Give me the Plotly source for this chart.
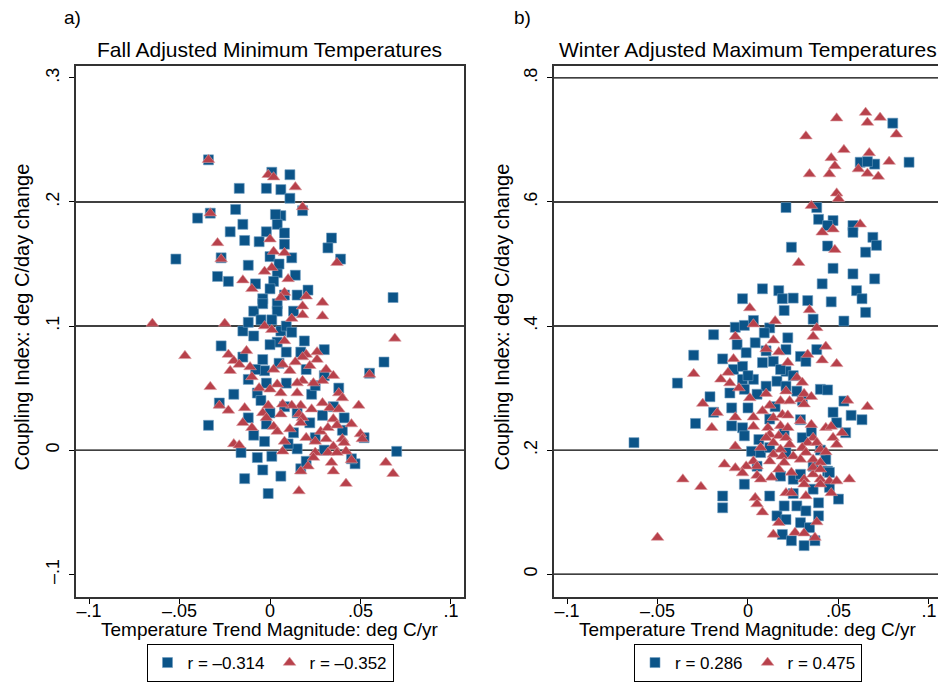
import plotly.graph_objects as go

W, H = 938, 682

# ---------------- Panel a: Fall Adjusted Minimum Temperatures ----------------
a_blue_x = [-0.034, 0.001, 0.011, -0.017, -0.002, 0.006, 0.011, -0.019, -0.040, -0.033,
            0.006, 0.004, -0.015, -0.022, -0.002, -0.014, -0.006, 0.008, 0.034, 0.032,
            -0.052, -0.027, 0.000, -0.012, 0.039, -0.029, -0.023, -0.008, 0.004, 0.014,
            0.002, 0.068, 0.021, 0.018, 0.008, 0.004, 0.013, -0.004,
            -0.027, -0.034, -0.020, -0.028, -0.015, -0.012, -0.009, -0.004, 0.004, 0.019,
            0.030, 0.063, 0.055, 0.070, -0.014, -0.004, 0.006, -0.001, -0.007, -0.016,
            0.001, 0.017, 0.020, 0.047, 0.045, -0.003, -0.009, 0.015, -0.004, -0.003,
            -0.009, 0.004, 0.009, 0.017, -0.012, -0.007, -0.002, 0.009, 0.023, 0.025,
            0.038, 0.029, 0.041, 0.040, 0.052, -0.012, -0.002, 0.022, 0.013, 0.006,
            0.009, 0.001,
            0.000, 0.008, 0.015, -0.005, 0.010, 0.030, 0.025, -0.008, 0.005, 0.020,
            0.012, 0.000, -0.015, 0.035, 0.030,
            0.003, 0.008, 0.005, 0.012, 0.000, -0.005, 0.015]
a_blue_y = [0.234, 0.224, 0.222, 0.211, 0.211, 0.210, 0.203, 0.194, 0.187, 0.191,
            0.189, 0.182, 0.182, 0.176, 0.176, 0.169, 0.168, 0.166, 0.171, 0.163,
            0.154, 0.155, 0.156, 0.149, 0.154, 0.140, 0.136, 0.134, 0.143, 0.141,
            0.136, 0.123, 0.129, 0.193, 0.125, 0.118, 0.112, 0.122,
            0.084, 0.020, 0.045, 0.038, 0.096, 0.103, 0.112, 0.118, 0.112, 0.088,
            0.081, 0.071, 0.062, -0.001, -0.023, -0.016, -0.021, -0.035, -0.006, -0.002,
            -0.005, -0.015, -0.009, -0.011, -0.007, 0.007, 0.012, 0.001, 0.073, 0.064,
            0.092, 0.087, 0.079, 0.079, 0.057, 0.046, 0.054, 0.054, 0.045, 0.052,
            0.050, 0.028, 0.026, 0.016, 0.010, 0.026, 0.021, 0.022, 0.014, 0.096,
            0.100, 0.105,
            0.030, 0.035, 0.030, 0.040, 0.005, 0.000, 0.010, 0.065, 0.070, 0.065,
            0.095, 0.085, 0.075, 0.035, 0.060,
            0.190, 0.175, 0.150, 0.155, 0.130, 0.105, 0.125]

a_red_x = [-0.034, -0.001, 0.002, 0.014, 0.018, -0.033, -0.029, 0.000, -0.027, 0.002,
           0.008, 0.037, 0.001, -0.003, -0.015, -0.010, 0.010, 0.008, 0.006, 0.020,
           0.029, 0.018,
           -0.065, -0.025, -0.047, 0.069, 0.055, -0.033, -0.028, -0.023, 0.049, -0.020,
           -0.017, 0.064, 0.068, 0.042, 0.016, 0.035, 0.034, 0.045, 0.007, -0.013,
           -0.023, -0.020, -0.017, -0.022, -0.011, -0.010, -0.003, 0.001, 0.008, 0.012,
           0.018, 0.029, 0.026, 0.020, 0.018, 0.022, 0.026, 0.014, 0.007, 0.002,
           0.011, 0.031, 0.035, 0.029, 0.024, 0.018, 0.015, 0.004, -0.006, 0.000,
           0.006, 0.015, 0.038, 0.040, 0.029, 0.033, 0.038, 0.023, 0.017, 0.012,
           0.007, -0.001, -0.014, -0.004, 0.006, 0.016, 0.018, -0.002, 0.035, 0.045,
           -0.015, -0.010, 0.002, 0.011, 0.017, 0.028, 0.032, 0.037, 0.004, 0.020,
           0.025, 0.031, 0.040, 0.050, 0.051, 0.035, 0.041, 0.042, 0.025, 0.032,
           0.037, 0.024, 0.021, 0.017, 0.008]
a_red_y = [0.234, 0.222, 0.220, 0.212, 0.196, 0.191, 0.167, 0.170, 0.154, 0.160,
           0.159, 0.151, 0.147, 0.144, 0.137, 0.130, 0.138, 0.127, 0.123, 0.124,
           0.119, 0.116,
           0.102, 0.102, 0.076, 0.090, 0.061, 0.051, 0.036, 0.032, 0.036, 0.005,
           0.004, -0.010, -0.019, -0.027, -0.033, -0.017, -0.010, -0.008, -0.001, 0.080,
           0.077, 0.072, 0.069, 0.064, 0.067, 0.059, 0.100, 0.097, 0.088, 0.106,
           0.109, 0.108, 0.079, 0.077, 0.075, 0.068, 0.073, 0.071, 0.069, 0.065,
           0.064, 0.065, 0.060, 0.056, 0.054, 0.056, 0.054, 0.053, 0.050, 0.049,
           0.046, 0.046, 0.046, 0.042, 0.038, 0.034, 0.033, 0.033, 0.036, 0.036,
           0.037, 0.036, 0.034, 0.030, 0.029, 0.029, 0.026, 0.026, 0.025, 0.021,
           0.022, 0.018, 0.019, 0.017, 0.022, 0.015, 0.018, 0.020, 0.015, 0.010,
           0.007, 0.009, 0.009, 0.013, 0.009, 0.003, 0.006, -0.001, -0.002, -0.002,
           -0.002, -0.006, -0.013, -0.017, 0.007]

# ---------------- Panel b: Winter Adjusted Maximum Temperatures ----------------
b_blue_x = [0.080, 0.089, 0.062, 0.070, 0.066, 0.021, 0.038, 0.039, 0.047, 0.044,
            0.058, 0.058, 0.069, 0.071, 0.065, 0.024, 0.044, 0.047, 0.058, 0.070,
            0.041, 0.060, 0.063, 0.008, 0.017, 0.019, 0.025, 0.033, 0.046, -0.003,
            0.020, 0.065, 0.036, 0.053, -0.007, -0.002, 0.003, 0.012,
            -0.019, -0.030, -0.039, -0.063, -0.029, -0.021, -0.019, -0.014, -0.006, -0.001,
            0.004, 0.009, 0.022, 0.021, 0.029, 0.038, 0.032, -0.008, -0.003, 0.008,
            0.014, 0.021, 0.003, -0.003, -0.010, -0.002, 0.016, 0.010, 0.021, 0.027,
            0.040, 0.044, 0.053, 0.047, 0.057, 0.063, 0.054, 0.049, -0.009, 0.000,
            -0.009, -0.003, -0.002, 0.006, 0.002, 0.007, 0.029, 0.030, 0.043, 0.044,
            -0.002, -0.014, -0.014, 0.012, 0.016, 0.020, 0.027, 0.032, 0.039, 0.039,
            0.021, 0.029, 0.034, 0.019, 0.024, 0.031, 0.037, 0.050, 0.036, 0.025,
            0.005, 0.036, 0.045, 0.018, 0.012, 0.021, 0.029,
            0.000, 0.010, 0.018, 0.005, 0.015, 0.025, 0.030, 0.012, 0.020, 0.035,
            0.040, 0.045, 0.025]
b_blue_y = [0.727, 0.664, 0.664, 0.661, 0.665, 0.591, 0.591, 0.572, 0.570, 0.562,
            0.562, 0.551, 0.543, 0.530, 0.519, 0.527, 0.529, 0.493, 0.484, 0.476,
            0.468, 0.457, 0.444, 0.460, 0.457, 0.444, 0.445, 0.441, 0.439, 0.444,
            0.425, 0.422, 0.411, 0.408, 0.398, 0.401, 0.409, 0.397,
            0.386, 0.353, 0.308, 0.212, 0.243, 0.286, 0.261, 0.347, 0.370, 0.357,
            0.373, 0.389, 0.381, 0.362, 0.351, 0.362, 0.343, 0.330, 0.335, 0.341,
            0.343, 0.327, 0.314, 0.314, 0.292, 0.298, 0.311, 0.303, 0.303, 0.295,
            0.298, 0.297, 0.279, 0.261, 0.256, 0.249, 0.228, 0.244, 0.268, 0.268,
            0.239, 0.236, 0.223, 0.217, 0.198, 0.196, 0.249, 0.220, 0.185, 0.166,
            0.145, 0.126, 0.107, 0.126, 0.094, 0.110, 0.110, 0.102, 0.115, 0.094,
            0.088, 0.083, 0.075, 0.064, 0.054, 0.046, 0.054, 0.121, 0.137, 0.153,
            0.174, 0.174, 0.164, 0.158, 0.204, 0.196, 0.161,
            0.320, 0.360, 0.330, 0.290, 0.270, 0.320, 0.280, 0.250, 0.230, 0.230,
            0.200, 0.140, 0.130]

b_red_x = [0.049, 0.065, 0.073, 0.066, 0.082, 0.032, 0.053, 0.046, 0.067, 0.078,
           0.048, 0.061, 0.066, 0.072, 0.034, 0.045, 0.049, 0.050, 0.035, 0.062,
           0.047, 0.041, 0.048, 0.028, 0.001, 0.034, 0.015, 0.003, 0.038,
           0.036, 0.043, -0.007, 0.014, 0.010, 0.017, 0.033, 0.041, 0.049, 0.022,
           -0.008, -0.011, -0.015, -0.010, -0.005, -0.030, 0.027, 0.030, 0.021, 0.010,
           0.001, 0.018, 0.012, 0.023, 0.029, 0.031, 0.035, 0.031, 0.055, 0.066,
           -0.025, -0.017, -0.020, -0.007, 0.003, 0.008, 0.014, 0.019, 0.022, 0.029,
           0.035, 0.043, 0.046, 0.052, 0.003, 0.011, 0.018, 0.022, 0.012, 0.017,
           0.021, 0.010, 0.014, 0.036, 0.033, 0.038, 0.047, 0.049, -0.007, 0.007,
           0.018, 0.023, 0.030, 0.040, 0.043, 0.014, 0.019, 0.025, 0.032, 0.036,
           0.040, 0.029, 0.020, 0.012, 0.003, 0.005, -0.001, -0.013, -0.007, -0.003,
           0.005, 0.007, 0.013, 0.017, 0.024, 0.031, 0.036, 0.040, 0.045, 0.049,
           0.056, 0.036, 0.040, 0.031, -0.036, -0.026, 0.046, 0.021, 0.024, 0.032,
           0.004, 0.005, 0.008, 0.017, 0.038, 0.026, 0.031, 0.014, 0.037, -0.050,
           0.040]
b_red_y = [0.735, 0.744, 0.736, 0.728, 0.709, 0.706, 0.684, 0.671, 0.679, 0.665,
           0.658, 0.653, 0.646, 0.641, 0.645, 0.645, 0.614, 0.605, 0.594, 0.564,
           0.556, 0.551, 0.523, 0.502, 0.429, 0.426, 0.408, 0.403, 0.397,
           0.383, 0.367, 0.383, 0.377, 0.363, 0.358, 0.354, 0.345, 0.339, 0.341,
           0.347, 0.325, 0.314, 0.308, 0.300, 0.323, 0.317, 0.309, 0.295, 0.291,
           0.284, 0.279, 0.272, 0.279, 0.282, 0.291, 0.286, 0.274, 0.280, 0.270,
           0.275, 0.260, 0.236, 0.253, 0.253, 0.263, 0.252, 0.257, 0.256, 0.247,
           0.241, 0.236, 0.238, 0.228, 0.238, 0.236, 0.239, 0.236, 0.225, 0.223,
           0.220, 0.220, 0.212, 0.220, 0.212, 0.212, 0.220, 0.209, 0.206, 0.204,
           0.201, 0.209, 0.204, 0.201, 0.197, 0.193, 0.190, 0.190, 0.196, 0.185,
           0.180, 0.185, 0.180, 0.182, 0.182, 0.174, 0.174, 0.177, 0.171, 0.163,
           0.159, 0.153, 0.156, 0.169, 0.164, 0.153, 0.161, 0.153, 0.150, 0.150,
           0.153, 0.172, 0.169, 0.145, 0.153, 0.141, 0.131, 0.131, 0.131, 0.126,
           0.123, 0.113, 0.100, 0.083, 0.084, 0.067, 0.066, 0.064, 0.059, 0.059,
           0.145]

# axis ticks and grid values
x_ticks = [-0.1, -0.05, 0, 0.05, 0.1]
x_ticktext = ["\u2013.1", "\u2013.05", "0", ".05", ".1"]
a_y_ticks = [-0.1, 0, 0.1, 0.2, 0.3]
a_y_ticktext = ["\u2013.1", "0", ".1", ".2", ".3"]
a_grid = [0, 0.1, 0.2]
b_y_ticks = [0, 0.2, 0.4, 0.6, 0.8]
b_y_ticktext = ["0", ".2", ".4", ".6", ".8"]
b_grid = [0, 0.2, 0.4, 0.6, 0.8]
a_labels = ["r = \u20130.314", "r = \u20130.352"]
b_labels = ["r = 0.286", "r = 0.475"]

BLUE = "#0b5488"
RED = "#b8414b"
FONT = "Liberation Sans, Arial, sans-serif"


def px(x):
    return x / W


def py(y):
    return 1 - y / H


fig = go.Figure()
fig.add_trace(go.Scatter(x=a_blue_x, y=a_blue_y, mode="markers", name=a_labels[0],
                         marker=dict(symbol="square", size=10, color=BLUE,
                                     line=dict(width=0.6, color="#6f9cc0")),
                         xaxis="x", yaxis="y", legend="legend"))
fig.add_trace(go.Scatter(x=a_red_x, y=a_red_y, mode="markers", name=a_labels[1],
                         marker=dict(symbol="triangle-up", size=11, color=RED,
                                     line=dict(width=0.6, color="#dc9aa0")),
                         xaxis="x", yaxis="y", legend="legend"))
fig.add_trace(go.Scatter(x=b_blue_x, y=b_blue_y, mode="markers", name=b_labels[0],
                         marker=dict(symbol="square", size=10, color=BLUE,
                                     line=dict(width=0.6, color="#6f9cc0")),
                         xaxis="x2", yaxis="y2", legend="legend2"))
fig.add_trace(go.Scatter(x=b_red_x, y=b_red_y, mode="markers", name=b_labels[1],
                         marker=dict(symbol="triangle-up", size=11, color=RED,
                                     line=dict(width=0.6, color="#dc9aa0")),
                         xaxis="x2", yaxis="y2", legend="legend2"))

for g in a_grid:
    fig.add_shape(type="line", xref="x domain", yref="y", x0=0, x1=1, y0=g, y1=g,
                  line=dict(color="black", width=1.4), layer="below")
for g in b_grid:
    fig.add_shape(type="line", xref="x2 domain", yref="y2", x0=0, x1=1, y0=g, y1=g,
                  line=dict(color="black", width=1.4), layer="below")

tickfont = dict(family=FONT, size=18, color="black")
common_x = dict(tickvals=x_ticks, ticktext=x_ticktext, ticks="outside", ticklen=5,
                tickcolor="black", tickwidth=1, showline=True, linecolor="#333",
                linewidth=2, showgrid=False, zeroline=False, tickfont=tickfont,
                fixedrange=True, ticklabelstandoff=-9)
common_y = dict(ticks="outside", ticklen=5, tickcolor="black", tickwidth=1,
                showline=True, linecolor="#333", linewidth=2, showgrid=False,
                zeroline=False, tickfont=tickfont, tickangle=-90, fixedrange=True,
                ticklabelstandoff=3)

fig.update_layout(
    width=W, height=H, margin=dict(l=0, r=0, t=0, b=0),
    paper_bgcolor="white", plot_bgcolor="white",
    font=dict(family=FONT, color="black"),
    xaxis=dict(domain=[px(76), px(464)], range=[-0.1072, 0.1072], anchor="y",
               mirror=True, **common_x),
    yaxis=dict(domain=[py(598), py(66)], range=[-0.1185, 0.3097], anchor="x",
               tickvals=a_y_ticks, ticktext=a_y_ticktext, mirror=True, **common_y),
    xaxis2=dict(domain=[px(554), 1.0], range=[-0.1072, 0.105], anchor="y2",
                mirror=True, **common_x),
    yaxis2=dict(domain=[py(598), py(66)], range=[-0.037, 0.8193], anchor="x2",
                tickvals=b_y_ticks, ticktext=b_y_ticktext, mirror=False, **common_y),
    legend=dict(x=px(270), y=py(645), xanchor="center", yanchor="top",
                orientation="h", bordercolor="black", borderwidth=1,
                font=dict(family=FONT, size=17), bgcolor="white",
                itemwidth=30, tracegroupgap=0),
    legend2=dict(x=px(748), y=py(645), xanchor="center", yanchor="top",
                 orientation="h", bordercolor="black", borderwidth=1,
                 font=dict(family=FONT, size=17), bgcolor="white",
                 itemwidth=30, tracegroupgap=0),
    showlegend=True,
)

ann = [
    dict(text="a)", x=px(62), y=py(18), xanchor="left", size=19),
    dict(text="b)", x=px(512), y=py(18), xanchor="left", size=19),
    dict(text="Fall Adjusted Minimum Temperatures", x=px(269), y=py(50),
         xanchor="center", size=21),
    dict(text="Winter Adjusted Maximum Temperatures", x=px(748), y=py(50),
         xanchor="center", size=21),
    dict(text="Temperature Trend Magnitude: deg C/yr", x=px(270), y=py(630),
         xanchor="center", size=19),
    dict(text="Temperature Trend Magnitude: deg C/yr", x=px(748), y=py(630),
         xanchor="center", size=19),
]
for a in ann:
    fig.add_annotation(text=a["text"], x=a["x"], y=a["y"], xref="paper", yref="paper",
                       xanchor=a["xanchor"], yanchor="middle", showarrow=False,
                       font=dict(family=FONT, size=a["size"], color="black"))
for xx in (22, 502):
    fig.add_annotation(text="Coupling Index: deg C/day change", x=px(xx), y=py(318),
                       xref="paper", yref="paper", xanchor="center", yanchor="middle",
                       textangle=-90, showarrow=False,
                       font=dict(family=FONT, size=20, color="black"))

fig.write_html("out.html")
